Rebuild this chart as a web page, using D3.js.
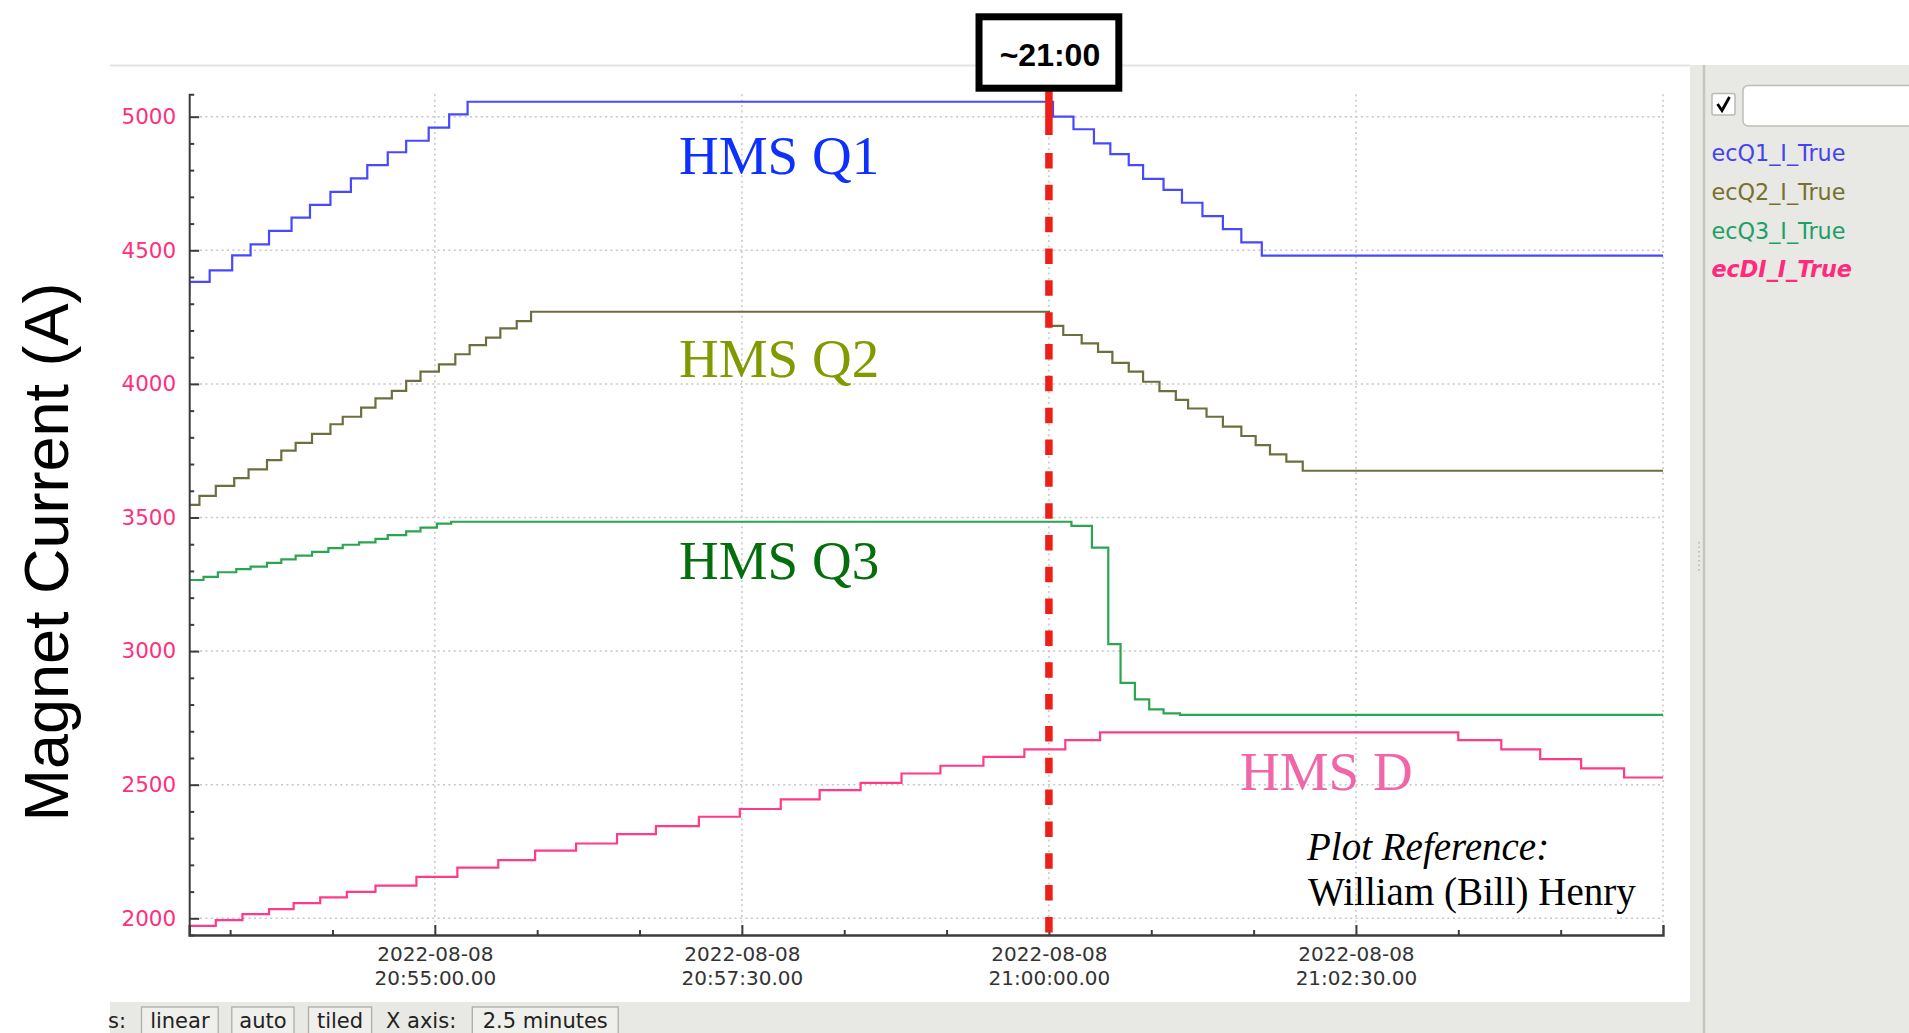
<!DOCTYPE html>
<html><head><meta charset="utf-8">
<script src="https://cdn.jsdelivr.net/npm/d3@7"></script>
<style>
html,body{margin:0;padding:0;background:#fff;overflow:hidden}
svg{display:block}
</style></head>
<body>
<svg id="chart" width="1909" height="1033"></svg>
<script>
// ---------------- data ----------------
const dateLabel = "2022-08-08";
const timeDomain = ["20:53:00", "21:05:00"];
const valueDomain = [1937.5, 5083.8];
const xMajorTicks = ["20:55:00", "20:57:30", "21:00:00", "21:02:30"];
const xMinorTicks = ["20:53:20", "20:54:10", "20:55:50", "20:56:40", "20:58:20", "20:59:10", "21:00:50", "21:01:40", "21:03:20", "21:04:10"];
const yMajorTicks = [2000, 2500, 3000, 3500, 4000, 4500, 5000];
const yMinorTicks = [2100, 2200, 2300, 2400, 2600, 2700, 2800, 2900, 3100, 3200, 3300, 3400, 3600, 3700, 3800, 3900, 4100, 4200, 4300, 4400, 4600, 4700, 4800, 4900];
const markerTime = "21:00:00";
const markerLabel = "~21:00";
const yAxisTitle = "Magnet Current (A)";

const q1Times = ["20:52:58", "20:53:00", "20:53:10", "20:53:21", "20:53:30", "20:53:39", "20:53:50", "20:53:59", "20:54:09", "20:54:19", "20:54:27", "20:54:37", "20:54:46", "20:54:57", "20:55:07", "20:55:16",
  "21:00:02", "21:00:12", "21:00:22", "21:00:30", "21:00:39", "21:00:46", "21:00:56", "21:01:05", "21:01:15", "21:01:25", "21:01:34", "21:01:44", "21:05:00"];
const q1Values = [4335, 4382, 4425, 4481, 4522, 4573, 4622, 4670, 4719, 4769, 4819, 4867, 4910, 4959, 5009, 5056,
  5000, 4953, 4900, 4860, 4819, 4767, 4726, 4678, 4628, 4579, 4530, 4480, 4480];

const q2Times = ["20:53:00", "20:53:05", "20:53:13", "20:53:22", "20:53:29", "20:53:38", "20:53:45", "20:53:52", "20:54:00", "20:54:09", "20:54:15", "20:54:24", "20:54:31", "20:54:39", "20:54:46", "20:54:53", "20:55:02", "20:55:10", "20:55:17", "20:55:25", "20:55:32", "20:55:40", "20:55:47",
  "21:00:00", "21:00:07", "21:00:16", "21:00:24", "21:00:31", "21:00:39", "21:00:46", "21:00:54", "21:01:02", "21:01:08", "21:01:17", "21:01:25", "21:01:34", "21:01:41", "21:01:48", "21:01:56", "21:02:04", "21:05:00"];
const q2Values = [3547, 3581, 3618, 3647, 3680, 3715, 3750, 3779, 3813, 3849, 3877, 3911, 3946, 3974, 4011, 4046, 4073, 4111, 4145, 4173, 4208, 4235, 4270,
  4217, 4183, 4152, 4120, 4079, 4046, 4008, 3973, 3940, 3908, 3877, 3840, 3805, 3771, 3736, 3709, 3675, 3675];

const q3Times = ["20:53:00", "20:53:07", "20:53:14", "20:53:23", "20:53:30", "20:53:38", "20:53:45", "20:53:52", "20:54:00", "20:54:08", "20:54:15", "20:54:23", "20:54:31", "20:54:37", "20:54:46", "20:54:53", "20:55:01", "20:55:08",
  "21:00:11", "21:00:21", "21:00:29", "21:00:35", "21:00:42", "21:00:49", "21:00:56", "21:01:04", "21:05:00"];
const q3Values = [3266, 3278, 3295, 3307, 3316, 3330, 3343, 3357, 3371, 3385, 3398, 3407, 3420, 3434, 3448, 3462, 3477, 3484,
  3469, 3387, 3026, 2881, 2819, 2782, 2767, 2761, 2761];

const dTimes = ["20:53:00", "20:53:13", "20:53:26", "20:53:39", "20:53:51", "20:54:04", "20:54:17", "20:54:31", "20:54:51", "20:55:11", "20:55:31", "20:55:49", "20:56:09", "20:56:29", "20:56:48", "20:57:09", "20:57:29", "20:57:49", "20:58:08", "20:58:28", "20:58:48", "20:59:07", "20:59:28", "20:59:48", "21:00:08", "21:00:25",
  "21:03:20", "21:03:41", "21:04:00", "21:04:20", "21:04:41", "21:05:00"];
const dValues = [1972, 1993, 2016, 2034, 2057, 2078, 2099, 2122, 2155, 2190, 2218, 2253, 2280, 2315, 2345, 2380, 2409, 2445, 2480, 2507, 2542, 2571, 2604, 2632, 2667, 2696,
  2667, 2632, 2596, 2561, 2527, 2527];

const legendNames = ["ecQ1_I_True", "ecQ2_I_True", "ecQ3_I_True", "ecDI_I_True"];
const plotLabels = ["HMS Q1", "HMS Q2", "HMS Q3", "HMS D"];
const toolbarItems = ["linear", "auto", "tiled", "2.5 minutes"];

// ---------------- drawing ----------------
const svg = d3.select("#chart");
const parseT = d3.timeParse("%H:%M:%S");
const L = 189.2, R = 1663, T = 94.3, B = 935;

const x = d3.scaleTime().domain(timeDomain.map(parseT)).range([L, R]);
const y = d3.scaleLinear().domain(valueDomain).range([B, T]);

const sans = "'Liberation Sans', Arial, Helvetica, sans-serif";
const dv = "'DejaVu Sans', sans-serif";
const serif = "'Liberation Serif', 'Times New Roman', serif";

// window chrome
svg.append("rect").attr("x", 0).attr("y", 0).attr("width", 1909).attr("height", 1033).attr("fill", "#ffffff");
svg.append("rect").attr("x", 1690).attr("y", 65).attr("width", 219).attr("height", 968).attr("fill", "#e8e8e4");
svg.append("rect").attr("x", 110).attr("y", 1002).attr("width", 1580).attr("height", 31).attr("fill", "#e8e8e4");
svg.append("line").attr("x1", 110).attr("x2", 1690).attr("y1", 65.5).attr("y2", 65.5).attr("stroke", "#e3e3e3").attr("stroke-width", 2);
svg.append("line").attr("x1", 1704).attr("x2", 1704).attr("y1", 65).attr("y2", 1033).attr("stroke", "#c8c5be").attr("stroke-width", 2.5);
svg.append("line").attr("x1", 1699).attr("x2", 1699).attr("y1", 542).attr("y2", 572).attr("stroke", "#b5b3ad").attr("stroke-width", 1.5).attr("stroke-dasharray", "1.5 3");

// grid
const grid = svg.append("g").attr("stroke", "#c6c6c6").attr("stroke-width", 1.5).attr("stroke-dasharray", "2 3.4");
grid.selectAll("line.h").data(yMajorTicks).join("line").attr("class", "h")
  .attr("x1", L).attr("x2", R).attr("y1", d => y(d)).attr("y2", d => y(d));
grid.selectAll("line.v").data(xMajorTicks.concat([timeDomain[1]])).join("line").attr("class", "v")
  .attr("x1", d => x(parseT(d))).attr("x2", d => x(parseT(d))).attr("y1", T).attr("y2", B);

// series
svg.append("clipPath").attr("id", "clip").append("rect").attr("x", L).attr("y", T).attr("width", R - L).attr("height", B - T);
const line = d3.line().x(d => x(d.t)).y(d => y(d.v)).curve(d3.curveStepAfter);
const series = [
  {times: q1Times, values: q1Values, color: "#4848ff"},
  {times: q2Times, values: q2Values, color: "#6e6e3e"},
  {times: q3Times, values: q3Values, color: "#2aa650"},
  {times: dTimes, values: dValues, color: "#ff3a8a"}
];
const gLines = svg.append("g").attr("clip-path", "url(#clip)");
series.forEach(s => {
  const pts = s.times.map((t, i) => ({t: parseT(t), v: s.values[i]}));
  gLines.append("path").attr("d", line(pts)).attr("fill", "none")
    .attr("stroke", s.color).attr("stroke-width", 2.2).attr("stroke-linejoin", "miter");
});

// axes
const axisColor = "#3c3c3c";
const gy = svg.append("g").attr("transform", `translate(${L},0)`)
  .call(d3.axisLeft(y).tickValues(yMajorTicks).tickSizeInner(-10).tickSizeOuter(-5).tickPadding(13).tickFormat(d3.format("d")));
gy.select(".domain").attr("stroke", axisColor).attr("stroke-width", 2);
gy.selectAll(".tick line").attr("stroke", axisColor).attr("stroke-width", 2);
gy.selectAll(".tick text").attr("fill", "#ff2f7f").attr("font-family", dv).attr("font-size", 21.5);
const gym = svg.append("g").attr("transform", `translate(${L},0)`)
  .call(d3.axisLeft(y).tickValues(yMinorTicks).tickSizeInner(-5).tickSizeOuter(0).tickFormat(""));
gym.select(".domain").remove();
gym.selectAll(".tick line").attr("stroke", axisColor).attr("stroke-width", 2);

const gx = svg.append("g").attr("transform", `translate(0,${B})`)
  .call(d3.axisBottom(x).tickValues(xMajorTicks.map(parseT)).tickSizeInner(-10).tickSizeOuter(-10).tickPadding(0));
gx.select(".domain").attr("stroke", axisColor).attr("stroke-width", 2.4);
gx.selectAll(".tick line").attr("stroke", axisColor).attr("stroke-width", 2);
gx.selectAll(".tick text").remove();
const xfmt = d3.timeFormat("%H:%M:%S");
gx.selectAll(".tick").append("text").attr("text-anchor", "middle").attr("fill", "#333")
  .attr("font-family", dv).attr("font-size", 20)
  .each(function(d) {
    const t = d3.select(this);
    t.append("tspan").attr("x", 0).attr("y", 26).text(dateLabel);
    t.append("tspan").attr("x", 0).attr("y", 50).text(xfmt(d) + ".00");
  });
const gxm = svg.append("g").attr("transform", `translate(0,${B})`)
  .call(d3.axisBottom(x).tickValues(xMinorTicks.map(parseT)).tickSizeInner(-5).tickSizeOuter(0).tickFormat(""));
gxm.select(".domain").remove();
gxm.selectAll(".tick line").attr("stroke", axisColor).attr("stroke-width", 2);

// marker line at ~21:00
const mx = x(parseT(markerTime));
svg.append("line").attr("x1", mx).attr("x2", mx).attr("y1", 88).attr("y2", 135)
  .attr("stroke", "#ee1f17").attr("stroke-width", 7.5);
svg.append("line").attr("x1", mx).attr("x2", mx).attr("y1", 153).attr("y2", B)
  .attr("stroke", "#ee1f17").attr("stroke-width", 7.5).attr("stroke-dasharray", "15.5 16.33");
svg.append("rect").attr("x", mx - 69.9).attr("y", 16.8).attr("width", 139.8).attr("height", 71.4)
  .attr("fill", "#fff").attr("stroke", "#000").attr("stroke-width", 7);
svg.append("text").attr("x", mx + 1).attr("y", 66).attr("text-anchor", "middle")
  .attr("font-family", sans).attr("font-weight", "bold").attr("font-size", 32).attr("fill", "#000").text(markerLabel);

// y axis title
svg.append("text").attr("transform", "translate(68,552) rotate(-90)").attr("text-anchor", "middle")
  .attr("font-family", sans).attr("font-size", 63).attr("fill", "#000").text(yAxisTitle);

// series annotations
const labelStyle = [
  {x: 679, y: 173.5, color: "#0d30ff"},
  {x: 679, y: 377, color: "#7f9b00"},
  {x: 679, y: 578.5, color: "#046e0c"},
  {x: 1240, y: 789.5, color: "#f066a8"}
];
plotLabels.forEach((txt, i) => {
  svg.append("text").attr("x", labelStyle[i].x).attr("y", labelStyle[i].y)
    .attr("font-family", serif).attr("font-size", 55).attr("fill", labelStyle[i].color).text(txt);
});
svg.append("text").attr("x", 1307).attr("y", 860).attr("font-family", serif).attr("font-style", "italic")
  .attr("font-size", 39).attr("fill", "#000").text("Plot Reference:");
svg.append("text").attr("x", 1308).attr("y", 905).attr("font-family", serif)
  .attr("font-size", 39).attr("fill", "#000").text("William (Bill) Henry");

// legend panel
svg.append("rect").attr("x", 1712).attr("y", 93.5).attr("width", 23).attr("height", 21.5).attr("rx", 2)
  .attr("fill", "#fff").attr("stroke", "#b9b9b4").attr("stroke-width", 1.5);
svg.append("path").attr("d", "M1717.5,104 L1722,110.5 L1729.5,97").attr("fill", "none").attr("stroke", "#000").attr("stroke-width", 2.8);
svg.append("rect").attr("x", 1743).attr("y", 85.5).attr("width", 200).attr("height", 40.5).attr("rx", 5)
  .attr("fill", "#fff").attr("stroke", "#bdbdb8").attr("stroke-width", 1.5);
const legendColors = ["#4343f0", "#77702e", "#1f9f66", "#ff2a7c"];
legendNames.forEach((n, i) => {
  const t = svg.append("text").attr("x", 1711.5).attr("y", 160.7 + i * 38.9).attr("font-family", dv)
    .attr("font-size", 22.3).attr("fill", legendColors[i]).text(n);
  if (i === 3) t.attr("font-weight", "bold").attr("font-style", "italic");
});

// bottom toolbar
const tbY = 1027.5, tbSize = 21;
svg.append("text").attr("x", 108).attr("y", tbY).attr("font-family", dv).attr("font-size", tbSize).attr("fill", "#222").text("s:");
const boxes = [[141.5, 218.2], [231.8, 294], [308.5, 371.6], [472.3, 618.2]];
toolbarItems.forEach((txt, i) => {
  const [a, b] = boxes[i];
  svg.append("rect").attr("x", a).attr("y", 1007).attr("width", b - a).attr("height", 40)
    .attr("fill", "#efefeb").attr("stroke", "#aeaea8").attr("stroke-width", 1.3);
  svg.append("text").attr("x", (a + b) / 2).attr("y", tbY).attr("text-anchor", "middle").attr("font-family", dv)
    .attr("font-size", tbSize).attr("fill", "#222").text(txt);
});
svg.append("text").attr("x", 386).attr("y", tbY).attr("font-family", dv).attr("font-size", tbSize).attr("fill", "#222").text("X axis:");
</script>
</body></html>
